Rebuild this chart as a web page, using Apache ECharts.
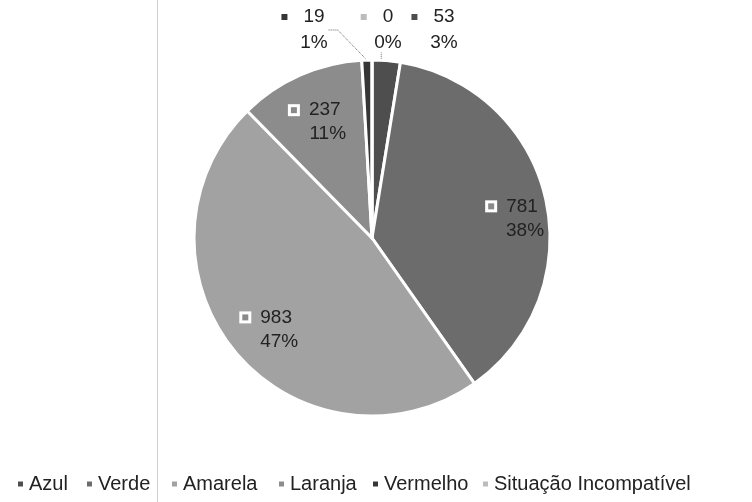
<!DOCTYPE html>
<html>
<head>
<meta charset="utf-8">
<script src="https://cdn.jsdelivr.net/npm/echarts@6/dist/echarts.min.js"></script>
<style>
  html, body { margin: 0; padding: 0; background: #fff; }
  #chart { width: 752px; height: 502px; }
</style>
</head>
<body>
<div id="chart"></div>
<script>
// Situation categories and their counts
const categories = ['Azul', 'Verde', 'Amarela', 'Laranja', 'Vermelho', 'Situação Incompatível'];
const counts = [53, 781, 983, 237, 19, 0];
const shades = ['#4e4e4e', '#6c6c6c', '#a2a2a2', '#8c8c8c', '#363636', '#bcbcbc'];
// Small slices get their labels outside the pie, above the top edge
const outsideLabels = [true, false, false, false, true, true];

const FONT = 'Liberation Sans, Arial, sans-serif';
const CX = 372, CY = 238, R = 178;

const pieData = categories.map((name, i) => ({
  name, value: counts[i], itemStyle: { color: shades[i] }
}));

function pct(p) { return Math.round(p.percent) + '%'; }

// Inner ring (transparent) carries the in-slice labels at 3/4 of the radius
const ringData = pieData.map((d, i) => ({
  name: d.name, value: d.value,
  itemStyle: { color: 'rgba(0,0,0,0)' },
  label: { show: !outsideLabels[i] }
}));

// Top label anchors for the small slices (label block centre)
const topLabelPos = { 4: [303, 30], 5: [377, 30], 0: [433, 30] };
// Small nudges for the in-slice labels
const innerNudge = { 1: [8, 11], 2: [0, 4], 3: [-1, 9] };
// Left edge of each legend entry
const legendLeft = [11, 80, 165, 272, 366, 476];

const chart = echarts.init(document.getElementById('chart'), null, { renderer: 'canvas' });

chart.setOption({
  backgroundColor: '#fff',
  animation: false,
  legend: categories.map((name, i) => ({
    bottom: 3,
    left: legendLeft[i],
    itemWidth: 7,
    itemHeight: 7,
    itemGap: 0,
    icon: 'rect',
    selectedMode: false,
    textStyle: { fontFamily: FONT, fontSize: 20, color: '#222' },
    data: [name]
  })),
  graphic: [{
    type: 'line',
    shape: { x1: 157.5, y1: 0, x2: 157.5, y2: 502 },
    style: { stroke: '#d0d0d0', lineWidth: 1 },
    silent: true
  }],
  series: [
    {
      type: 'pie',
      center: [CX, CY],
      radius: R,
      startAngle: 90,
      clockwise: true,
      avoidLabelOverlap: false,
      data: pieData.map((d, i) => Object.assign({}, d, {
        label: { show: outsideLabels[i] },
        labelLine: { show: outsideLabels[i] && counts[i] < 50 }
      })),
      itemStyle: { borderColor: '#fff', borderWidth: 3 },
      emphasis: { disabled: true },
      label: {
        position: 'outside',
        fontFamily: FONT,
        formatter: p => '{k|}{g|}{v|' + p.value + '}\n{g2|}{v|' + pct(p) + '}',
        rich: {
          k: { width: 6, height: 6, backgroundColor: 'inherit' },
          g: { width: 16 },
          g2: { width: 22 },
          v: { fontFamily: FONT, fontSize: 19, color: '#222', lineHeight: 26 }
        }
      },
      labelLine: {
        length: 10, length2: 10,
        lineStyle: { color: '#666', width: 1, type: 'dotted' }
      },
      labelLayout: function (params) {
        const pos = topLabelPos[params.dataIndex];
        if (!pos) return {};
        return { x: pos[0], y: pos[1], align: 'center', verticalAlign: 'middle' };
      }
    },
    {
      type: 'pie',
      center: [CX, CY],
      radius: [R / 2, R],
      startAngle: 90,
      clockwise: true,
      silent: true,
      avoidLabelOverlap: false,
      legendHoverLink: false,
      data: ringData,
      labelLine: { show: false },
      label: {
        position: 'inside',
        formatter: p => '{k|}{g|}{v|' + p.value + '}\n{g2|}{v|' + pct(p) + '}',
        rich: {
          k: { width: 6, height: 6, backgroundColor: '#8a8a8a', borderColor: '#fff', borderWidth: 3 },
          g: { width: 12 },
          g2: { width: 24 },
          v: { fontFamily: FONT, fontSize: 19, color: '#222', lineHeight: 24 }
        }
      },
      labelLayout: function (params) {
        const n = innerNudge[params.dataIndex];
        return n ? { dx: n[0], dy: n[1] } : {};
      }
    }
  ]
});
</script>
</body>
</html>
